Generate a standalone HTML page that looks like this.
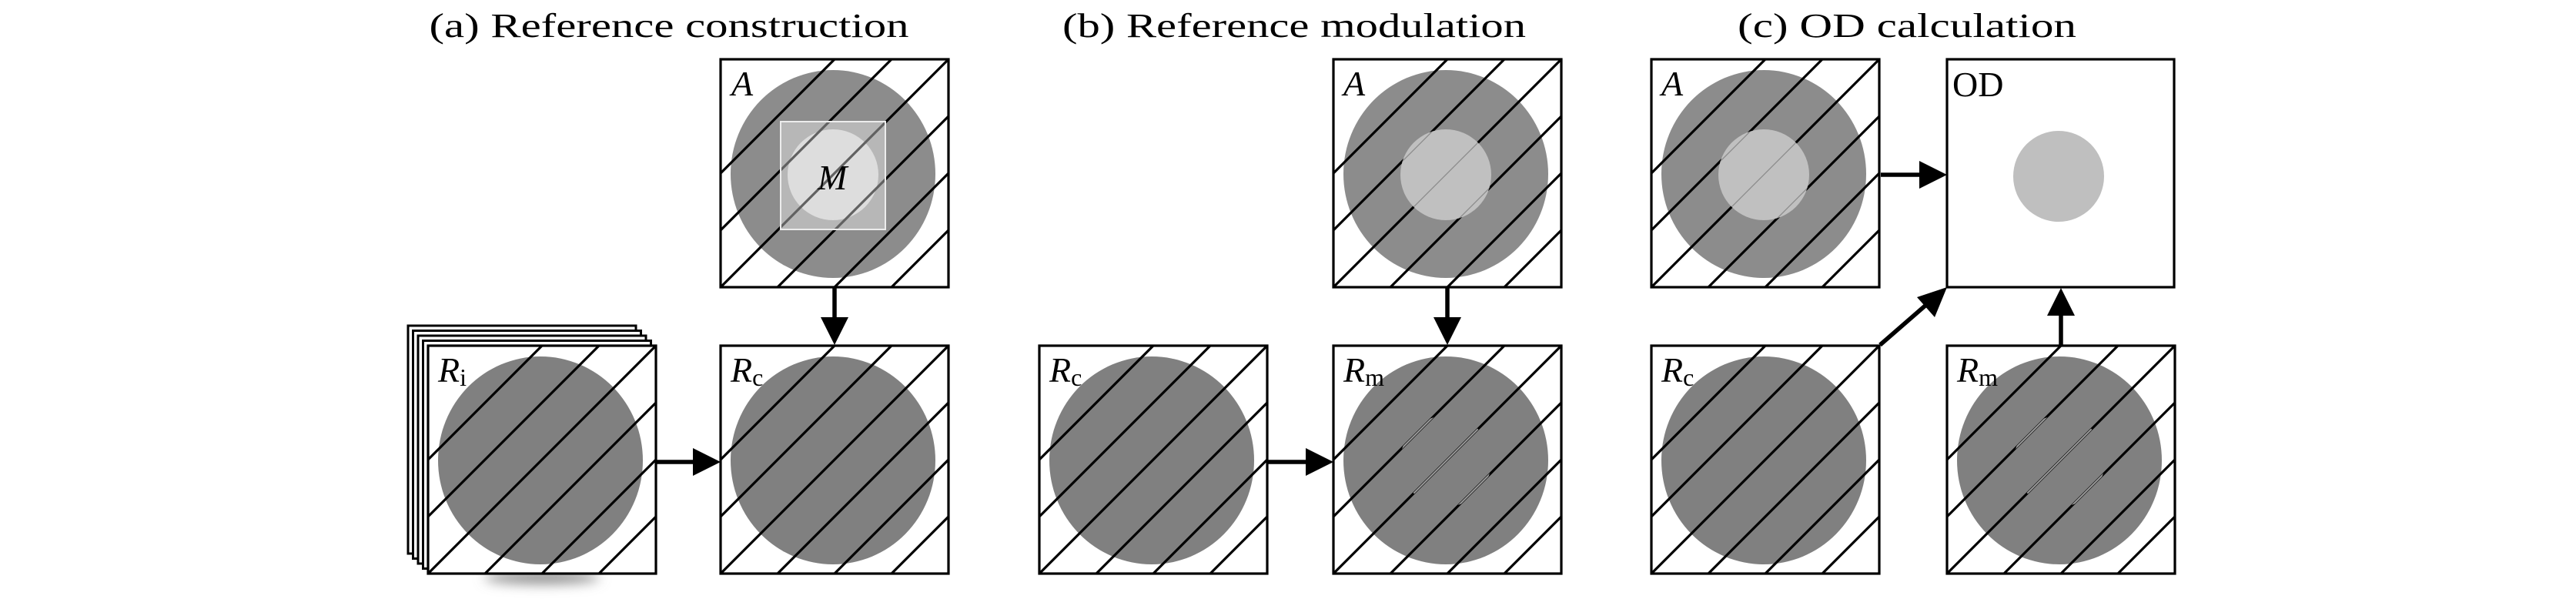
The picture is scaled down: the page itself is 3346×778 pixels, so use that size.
<!DOCTYPE html>
<html><head><meta charset="utf-8"><style>html,body{margin:0;padding:0;background:#fff;width:3346px;height:778px;overflow:hidden}svg{display:block}</style></head>
<body>
<svg width="3346" height="778" viewBox="0 0 3346 778" xmlns="http://www.w3.org/2000/svg">
<defs>
<clipPath id="bc"><rect x="0" y="0" width="296" height="296"/></clipPath>
<clipPath id="ic"><circle cx="146" cy="150" r="59"/></clipPath>
<g id="hatch" clip-path="url(#bc)" stroke="#000" stroke-width="3.2" fill="none">
<line x1="-20" y1="168" x2="168" y2="-20"/>
<line x1="-20" y1="242" x2="242" y2="-20"/>
<line x1="-20" y1="316" x2="316" y2="-20"/>
<line x1="-20" y1="390" x2="390" y2="-20"/>
<line x1="-20" y1="464" x2="464" y2="-20"/>
<line x1="-20" y1="538" x2="538" y2="-20"/>
</g>
<g id="hatchthin" clip-path="url(#ic)" fill="none">
<line x1="-20" y1="242" x2="242" y2="-20"/>
<line x1="-20" y1="316" x2="316" y2="-20"/>
<line x1="-20" y1="390" x2="390" y2="-20"/>
</g>
<g id="R">
<rect x="0" y="0" width="296" height="296" fill="#fff"/>
<ellipse cx="146" cy="149" rx="133" ry="135" fill="#808080"/>
<use href="#hatch"/>
<rect x="0" y="0" width="296" height="296" fill="none" stroke="#000" stroke-width="3.2"/>
</g>
<g id="Amod">
<rect x="0" y="0" width="296" height="296" fill="#fff"/>
<ellipse cx="146" cy="149" rx="133" ry="135" fill="#8c8c8c"/>
<use href="#hatch"/>
<circle cx="146" cy="150" r="59" fill="#c0c0c0"/>
<use href="#hatchthin" stroke="#8a8a8a" stroke-width="1.2"/>
<rect x="0" y="0" width="296" height="296" fill="none" stroke="#000" stroke-width="3.2"/>
</g>
<g id="Rm">
<use href="#R"/>
<use href="#hatchthin" stroke="#9c9c9c" stroke-width="2"/>
</g>
<filter id="blur" x="-50%" y="-200%" width="200%" height="500%"><feGaussianBlur stdDeviation="8"/></filter>
</defs>

<g font-family="Liberation Serif, serif" font-size="44" fill="#000">
<text x="869" y="48" text-anchor="middle" textLength="623" lengthAdjust="spacingAndGlyphs">(a) Reference construction</text>
<text x="1681" y="48" text-anchor="middle" textLength="602" lengthAdjust="spacingAndGlyphs">(b) Reference modulation</text>
<text x="2477" y="48" text-anchor="middle" textLength="440" lengthAdjust="spacingAndGlyphs">(c) OD calculation</text>
</g>

<ellipse cx="704" cy="750" rx="75" ry="8" fill="#888" filter="url(#blur)"/>

<g fill="#fff" stroke="#000" stroke-width="3">
<rect x="530" y="423" width="296" height="296"/>
<rect x="536.5" y="429.5" width="296" height="296"/>
<rect x="543" y="436" width="296" height="296"/>
<rect x="549.5" y="442.5" width="296" height="296"/>
</g>
<g transform="translate(556,449)"><use href="#R"/></g>

<g transform="translate(936,77)">
<rect x="0" y="0" width="296" height="296" fill="#fff"/>
<ellipse cx="146" cy="149" rx="133" ry="135" fill="#8c8c8c"/>
<circle cx="146" cy="150" r="59" fill="#c8c8c8"/>
<use href="#hatch"/>
<rect x="78" y="81" width="136" height="140" fill="#fff" fill-opacity="0.38" stroke="#ececec" stroke-width="2"/>
<rect x="0" y="0" width="296" height="296" fill="none" stroke="#000" stroke-width="3.2"/>
</g>
<g transform="translate(936,449)"><use href="#R"/></g>

<g transform="translate(1350,449)"><use href="#R"/></g>
<g transform="translate(1732,77)"><use href="#Amod"/></g>
<g transform="translate(1732,449)"><use href="#Rm"/></g>

<g transform="translate(2145,77)"><use href="#Amod"/></g>
<g transform="translate(2145,449)"><use href="#R"/></g>
<g transform="translate(2529,449)"><use href="#Rm"/></g>
<g transform="translate(2529,77)">
<rect x="0" y="0" width="295" height="296" fill="#fff" stroke="#000" stroke-width="3.2"/>
<circle cx="145" cy="152" r="59" fill="#bfbfbf"/>
</g>

<g font-family="Liberation Serif, serif" font-size="46" fill="#000">
<text x="950" y="124" font-style="italic">A</text>
<text x="1745" y="124" font-style="italic">A</text>
<text x="2158" y="124" font-style="italic">A</text>
<text x="1062" y="246" font-style="italic">M</text>
<text x="2536" y="125">OD</text>
<text x="569" y="496"><tspan font-style="italic">R</tspan><tspan font-size="32" dy="5">i</tspan></text>
<text x="949" y="496"><tspan font-style="italic">R</tspan><tspan font-size="32" dy="5">c</tspan></text>
<text x="1363" y="496"><tspan font-style="italic">R</tspan><tspan font-size="32" dy="5">c</tspan></text>
<text x="1745" y="496"><tspan font-style="italic">R</tspan><tspan font-size="32" dy="5">m</tspan></text>
<text x="2158" y="496"><tspan font-style="italic">R</tspan><tspan font-size="32" dy="5">c</tspan></text>
<text x="2542" y="496"><tspan font-style="italic">R</tspan><tspan font-size="32" dy="5">m</tspan></text>
</g>

<g stroke="#000" stroke-width="5.5" fill="none">
<line x1="852" y1="600" x2="902" y2="600"/>
<line x1="1084" y1="374" x2="1084" y2="414"/>
<line x1="1647" y1="600" x2="1697" y2="600"/>
<line x1="1880" y1="374" x2="1880" y2="414"/>
<line x1="2443" y1="227" x2="2494" y2="227"/>
<line x1="2677" y1="448" x2="2677" y2="408"/>
<line x1="2442" y1="448" x2="2503" y2="395"/>
</g>
<g fill="#000">
<polygon points="936,600 900,582 900,618"/>
<polygon points="1084,448 1066,412 1102,412"/>
<polygon points="1732,600 1696,582 1696,618"/>
<polygon points="1880,448 1862,412 1898,412"/>
<polygon points="2529,227 2493,209 2493,245"/>
<polygon points="2677,374 2659,410 2695,410"/>
<polygon points="2529,373 2490,386 2513,412"/>
</g>
</svg>
</body></html>
